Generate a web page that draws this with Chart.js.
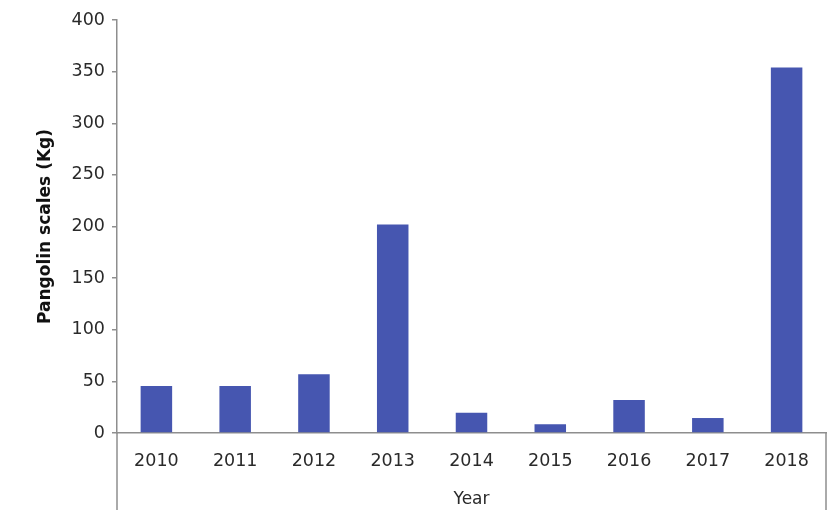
<!DOCTYPE html>
<html>
<head>
<meta charset="utf-8">
<script src="https://cdn.jsdelivr.net/npm/chart.js@4"></script>
<style>
    html, body { margin: 0; padding: 0; background: #fff; }
    #wrap { width: 840px; height: 517px; }
</style>
</head>
<body>
<div id="wrap"><canvas id="chart"></canvas></div>
<script>
"use strict";

// Data
const years = ["2010", "2011", "2012", "2013", "2014", "2015", "2016", "2017", "2018"];
const scalesKg = [45.5, 45.5, 57, 202, 19.5, 8.5, 32, 14.5, 354];
const yTicks = [0, 50, 100, 150, 200, 250, 300, 350, 400];

const axisGrey = "#8e8e8e";
const textGrey = "#2a2a2a";

// Axis lines below the x axis run down to the bottom of the box
const boxLines = {
    id: "boxLines",
    afterDraw(chart) {
        const { ctx, chartArea, scales } = chart;
        ctx.save();
        ctx.strokeStyle = axisGrey;
        ctx.lineWidth = 1.5;
        ctx.beginPath();
        ctx.moveTo(chartArea.left, chartArea.bottom);
        ctx.lineTo(chartArea.left, scales.x.bottom);
        ctx.moveTo(chartArea.right, chartArea.bottom);
        ctx.lineTo(chartArea.right, scales.x.bottom);
        ctx.stroke();
        ctx.restore();
    }
};

const config = {
    type: "bar",
    data: {
        labels: years,
        datasets: [{
            data: scalesKg,
            backgroundColor: "#4656b0",
            barPercentage: 0.4,
            categoryPercentage: 1
        }]
    },
    options: {
        responsive: true,
        maintainAspectRatio: false,
        animation: false,
        layout: { padding: { top: 20, right: 14, bottom: 7, left: 0 } },
        plugins: {
            legend: { display: false },
            tooltip: { enabled: false }
        },
        scales: {
            x: {
                grid: { display: false, drawTicks: false },
                border: { display: true, color: axisGrey, width: 1.5 },
                ticks: {
                    color: textGrey,
                    padding: 18,
                    font: { family: "DejaVu Sans", size: 17.5 }
                },
                title: {
                    display: true,
                    text: "Year",
                    color: textGrey,
                    padding: { top: 0, bottom: 0 },
                    font: { family: "DejaVu Sans", size: 17 }
                },
                afterFit: scale => { scale.height = 77; }
            },
            y: {
                min: 0,
                max: 400,
                afterBuildTicks: scale => { scale.ticks = yTicks.map(v => ({ value: v })); },
                grid: { drawOnChartArea: false, drawTicks: true, tickLength: 5, color: axisGrey, lineWidth: 1.5 },
                border: { display: true, color: axisGrey, width: 1.5 },
                ticks: {
                    color: textGrey,
                    padding: 7,
                    font: { family: "DejaVu Sans", size: 17.5 }
                },
                title: {
                    display: true,
                    text: "Pangolin scales (Kg)",
                    color: "#111",
                    padding: { top: 35, bottom: 0 },
                    font: { family: "DejaVu Sans", size: 17, weight: "bold" }
                },
                afterFit: scale => { scale.width = 117; }
            }
        }
    },
    plugins: [boxLines]
};

new Chart(document.getElementById("chart"), config);
</script>
</body>
</html>
